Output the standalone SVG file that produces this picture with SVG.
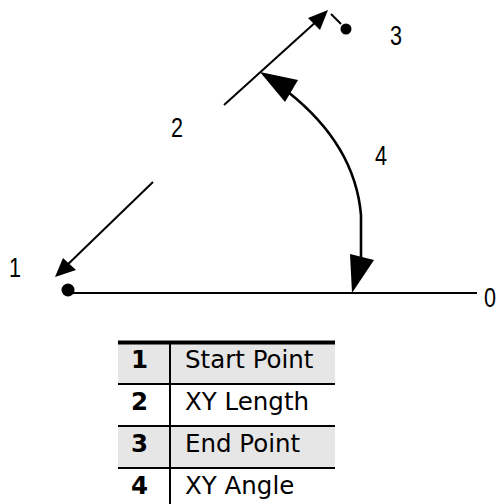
<svg xmlns="http://www.w3.org/2000/svg" width="496" height="504" viewBox="0 0 496 504">
<style>
.lbl{font-family:"Liberation Sans",Arial,sans-serif;font-size:27px;fill:#000}
.ln{stroke:#000;fill:none;stroke-width:2}
.arc{stroke:#000;fill:none;stroke-width:2.6}
.ah{fill:#000;stroke:none}
.tt{font-family:"DejaVu Sans",Verdana,sans-serif;font-size:24.5px;fill:#000}
.tn{font-family:"DejaVu Sans",Verdana,sans-serif;font-size:24.5px;font-weight:bold;fill:#000}
.sep{stroke:#000;stroke-width:2}
</style>
<rect width="496" height="504" fill="#fff"/>
<g id="connectors">
  <line class="ln" x1="67" y1="293" x2="477" y2="293" stroke-width="4.5"/>
  <line class="ln" x1="224" y1="105" x2="318" y2="20"/>
  <polygon class="ah" points="328,10 320,30 308,18"/>
  <line class="ln" x1="331" y1="14" x2="341" y2="24"/>
  <line class="ln" x1="153" y1="182" x2="62" y2="270"/>
  <polygon class="ah" points="55,277 63,258 76,270"/>
  <path class="arc" d="M 288,92 Q 355,145 361,215 L 361,258"/>
  <polygon class="ah" points="260,72 298,80 285,102"/>
  <polygon class="ah" points="350,254 374,260 352,293"/>
</g>
<g id="node-start">
  <circle cx="68" cy="290" r="6.5"/>
  <text class="lbl" transform="translate(9,277) scale(0.8,1)">1</text>
</g>
<g id="node-length">
  <text class="lbl" transform="translate(171,137) scale(0.8,1)">2</text>
</g>
<g id="node-end">
  <circle cx="346" cy="29" r="5.5"/>
  <text class="lbl" transform="translate(390,45) scale(0.8,1)">3</text>
</g>
<g id="node-angle">
  <text class="lbl" transform="translate(375,165) scale(0.8,1)">4</text>
</g>
<g id="node-zero">
  <text class="lbl" transform="translate(484,307) scale(0.8,1)">0</text>
</g>
<g id="legend">
  <rect x="118" y="342" width="217" height="42" fill="#e6e6e6"/>
  <rect x="118" y="426" width="217" height="42" fill="#e6e6e6"/>
  <line x1="118" y1="342.5" x2="335" y2="342.5" stroke="#000" stroke-width="4"/>
  <line class="sep" x1="118" y1="384" x2="335" y2="384"/>
  <line class="sep" x1="118" y1="426" x2="335" y2="426"/>
  <line class="sep" x1="118" y1="468" x2="335" y2="468"/>
  <line class="sep" x1="170" y1="342" x2="170" y2="504"/>
  <text class="tn" x="131" y="368">1</text>
  <text class="tt" x="185" y="368">Start Point</text>
  <text class="tn" x="131" y="410">2</text>
  <text class="tt" x="185" y="410">XY Length</text>
  <text class="tn" x="131" y="452">3</text>
  <text class="tt" x="185" y="452">End Point</text>
  <text class="tn" x="131" y="494">4</text>
  <text class="tt" x="185" y="494">XY Angle</text>
</g>
</svg>
